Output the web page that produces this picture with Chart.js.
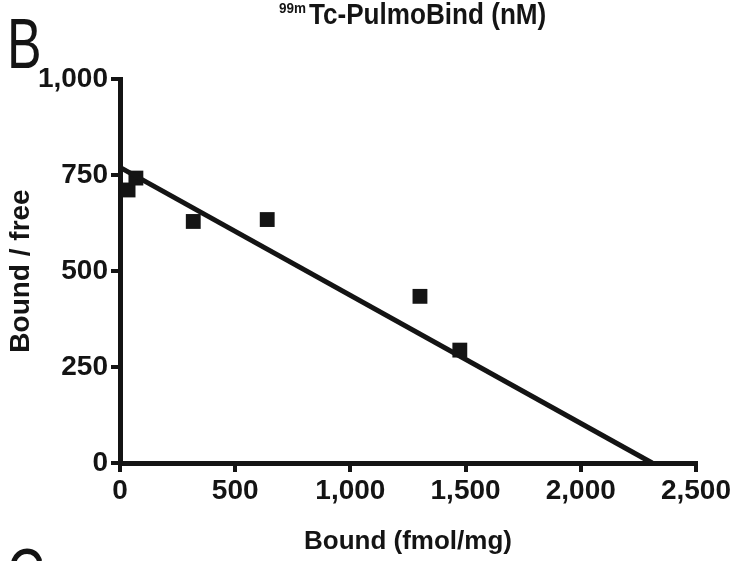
<!DOCTYPE html>
<html>
<head>
<meta charset="utf-8">
<script src="https://cdn.jsdelivr.net/npm/chart.js@4.4.1/dist/chart.umd.min.js"></script>
<style>
html,body{margin:0;padding:0;background:#fff;}
#wrap{position:relative;width:733px;height:561px;}
</style>
</head>
<body>
<div id="wrap"><canvas id="c"></canvas></div>
<script>
// Scatchard data
const boundValues = [35, 69, 318, 639, 1302, 1475];          // Bound (fmol/mg)
const boundFreeValues = [711, 742, 629, 634, 434, 294];      // Bound / free
// Linear fit end points (x-intercept = Bmax, y-intercept)
const fitX = [0, 2310];
const fitY = [770, 0];
const xTicks = [0, 500, 1000, 1500, 2000, 2500];
const yTicks = [0, 250, 500, 750, 1000];

const INK = '#141414';
const FONT = '"Liberation Sans", Arial, Helvetica, sans-serif';

const pointData = boundValues.map((x, i) => ({x, y: boundFreeValues[i]}));
const lineData = fitX.map((x, i) => ({x, y: fitY[i]}));

function squeezedText(ctx, text, x, y, sx) {
  ctx.save();
  ctx.translate(x, y);
  ctx.scale(sx, 1);
  ctx.fillText(text, 0, 0);
  ctx.restore();
}

const decor = {
  id: 'decor',
  afterDraw(chart) {
    const ctx = chart.ctx;
    ctx.save();
    ctx.fillStyle = INK;
    ctx.textBaseline = 'alphabetic';
    // panel letter B
    ctx.font = '70px ' + FONT;
    squeezedText(ctx, 'B', 7, 68, 0.74);
    // top title with superscript
    ctx.font = 'bold 15px ' + FONT;
    squeezedText(ctx, '99m', 279, 13, 0.9);
    ctx.font = 'bold 29px ' + FONT;
    squeezedText(ctx, 'Tc-PulmoBind (nM)', 309, 24, 0.9);
    // next panel letter (cut off)
    ctx.font = '70px ' + FONT;
    squeezedText(ctx, 'C', 7, 598, 0.74);
    ctx.restore();
  }
};

new Chart(document.getElementById('c'), {
  type: 'scatter',
  data: {
    datasets: [
      {
        label: 'fit',
        data: lineData,
        showLine: true,
        borderColor: INK,
        borderWidth: 5,
        pointRadius: 0,
        clip: false
      },
      {
        label: 'data',
        data: pointData,
        pointStyle: 'rect',
        pointRadius: 10.5,
        backgroundColor: INK,
        borderColor: INK,
        borderWidth: 0,
        clip: false
      }
    ]
  },
  options: {
    responsive: true,
    maintainAspectRatio: false,
    animation: false,
    layout: {padding: {top: 79, right: 36, left: 0, bottom: 0}},
    plugins: {legend: {display: false}, tooltip: {enabled: false}},
    scales: {
      x: {
        type: 'linear',
        min: 0, max: 2500,
        afterBuildTicks: s => { s.ticks = xTicks.map(v => ({value: v})); },
        afterFit: s => { s.height = 98; },
        border: {display: true, color: INK, width: 5},
        grid: {display: true, drawOnChartArea: false, drawTicks: true, tickLength: 9, lineWidth: 4, color: INK},
        ticks: {
          color: INK, padding: 2,
          font: {family: FONT, size: 28, weight: 'bold'},
          callback: v => v.toLocaleString('en-US')
        },
        title: {display: true, text: 'Bound (fmol/mg)', color: INK, padding: {top: 5, bottom: 4},
          font: {family: FONT, size: 26, weight: 'bold'}}
      },
      y: {
        type: 'linear',
        min: 0, max: 1000,
        afterBuildTicks: s => { s.ticks = yTicks.map(v => ({value: v})); },
        afterFit: s => { s.width = 120; },
        border: {display: true, color: INK, width: 5},
        grid: {display: true, drawOnChartArea: false, drawTicks: true, tickLength: 9, lineWidth: 4, color: INK},
        ticks: {
          color: INK, padding: 3,
          font: {family: FONT, size: 28, weight: 'bold'},
          callback: v => v.toLocaleString('en-US')
        },
        title: {display: true, text: 'Bound / free', color: INK, padding: {top: 4, bottom: 0},
          font: {family: FONT, size: 28, weight: 'bold'}}
      }
    }
  },
  plugins: [decor]
});
</script>
</body>
</html>
